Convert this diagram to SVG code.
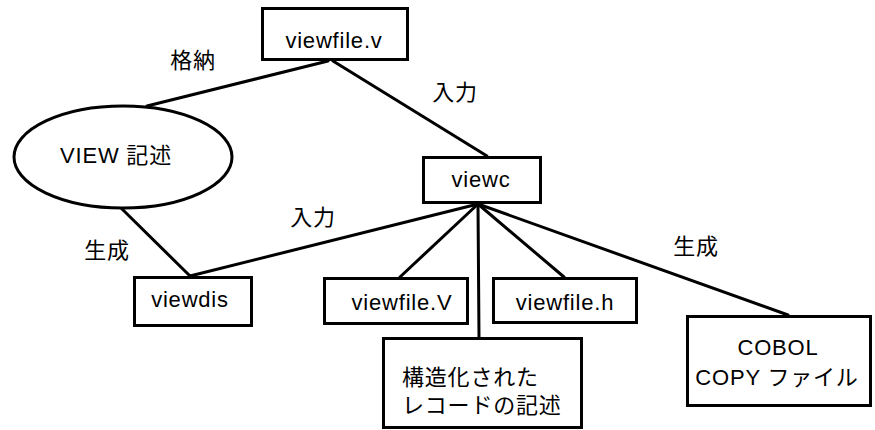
<svg xmlns="http://www.w3.org/2000/svg" width="875" height="430" viewBox="0 0 875 430">
<style>
.n{fill:#fff;stroke:#000;stroke-width:3}
.e line{stroke:#000;stroke-width:3;stroke-linecap:round}
text{font-family:"Liberation Sans","Noto Sans CJK JP",sans-serif;font-size:22px;letter-spacing:0.8px;fill:#000}
.c{text-anchor:middle}
</style>
<rect width="875" height="430" fill="#fff"/>
<g id="connectors" class="e">
<line x1="328" y1="61" x2="147" y2="106"/>
<line x1="333" y1="61" x2="487" y2="156"/>
<line x1="120" y1="207" x2="190" y2="276"/>
<line x1="190" y1="276" x2="478" y2="204"/>
<line x1="478" y1="204" x2="400" y2="277"/>
<line x1="478" y1="204" x2="479" y2="337"/>
<line x1="478" y1="204" x2="564" y2="277"/>
<line x1="478" y1="204" x2="788" y2="315"/>
</g>
<g id="labels">
<text x="193" y="68" class="c">格納</text>
<text x="455" y="100" class="c">入力</text>
<text x="313" y="225" class="c">入力</text>
<text x="107" y="258" class="c">生成</text>
<text x="696" y="254" class="c">生成</text>
</g>
<g id="viewfile_v"><rect class="n" x="262.5" y="8.5" width="145" height="51"/><text x="334" y="48" class="c">viewfile.v</text></g>
<g id="view_desc"><ellipse class="n" cx="123" cy="157" rx="109" ry="51"/><text x="116" y="163" class="c">VIEW 記述</text></g>
<g id="viewc"><rect class="n" x="423.5" y="157.5" width="117" height="45"/><text x="481" y="187" class="c">viewc</text></g>
<g id="viewdis"><rect class="n" x="134.5" y="277.5" width="117" height="48"/><text x="190" y="307" class="c">viewdis</text></g>
<g id="viewfile_V"><rect class="n" x="324.5" y="278.5" width="143" height="45"/><text x="402" y="310" class="c">viewfile.V</text></g>
<g id="viewfile_h"><rect class="n" x="493.5" y="278.5" width="143" height="44"/><text x="565" y="310" class="c">viewfile.h</text></g>
<g id="struct"><rect class="n" x="383.5" y="338.5" width="198" height="89"/><text x="402" y="385">構造化された</text><text x="402" y="413">レコードの記述</text></g>
<g id="cobol"><rect class="n" x="687.5" y="316.5" width="183" height="89"/><text x="778" y="355" class="c">COBOL</text><text x="777" y="385" class="c">COPY ファイル</text></g>
</svg>
